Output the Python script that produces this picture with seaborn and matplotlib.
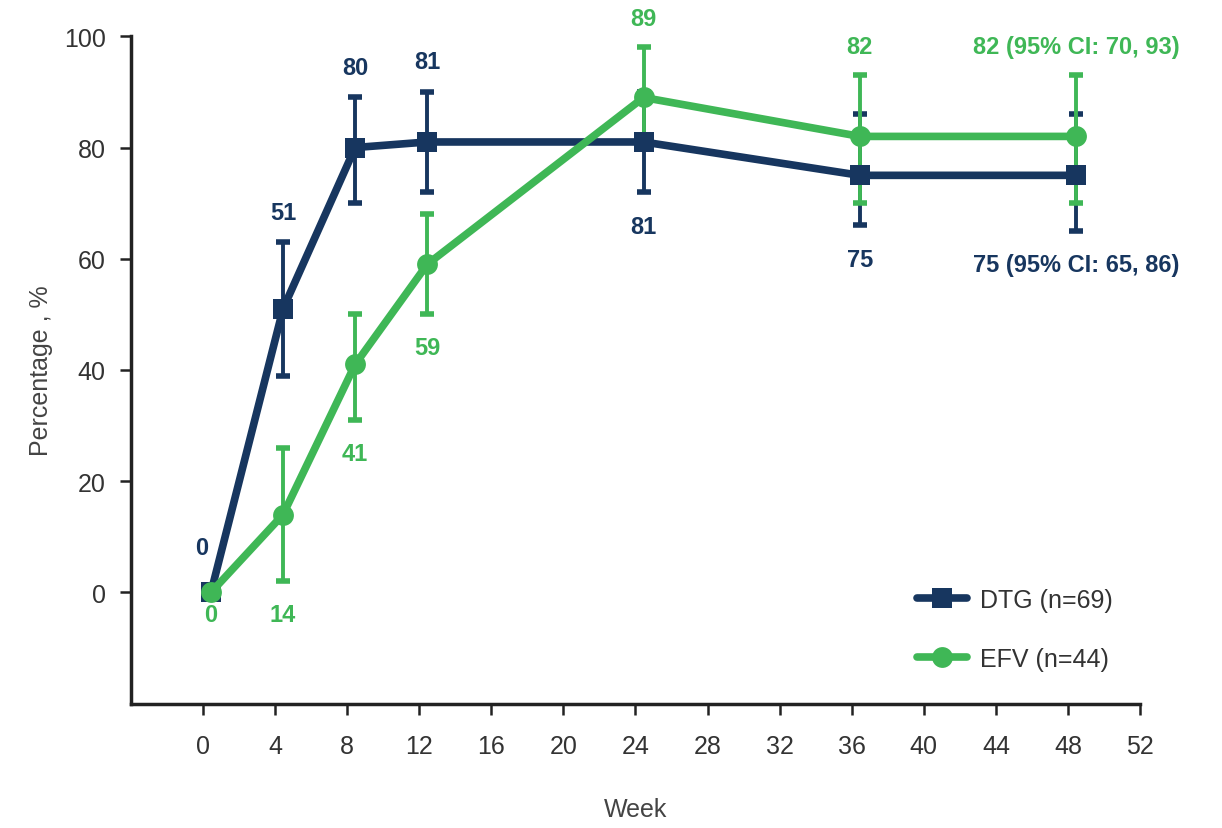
import numpy as np
import pandas as pd
import seaborn as sns
import matplotlib.pyplot as plt

# data
weeks = [0, 4, 8, 12, 24, 36, 48]
dtg = [0, 51, 80, 81, 81, 75, 75]
dtg_lo = [0, 39, 70, 72, 72, 66, 65]
dtg_hi = [0, 63, 89, 90, 90, 86, 86]
efv = [0, 14, 41, 59, 89, 82, 82]
efv_lo = [0, 2, 31, 50, 80, 70, 70]
efv_hi = [0, 26, 50, 68, 98, 93, 93]
dtg_labels = ['0', '51', '80', '81', '81', '75', '75 (95% CI: 65, 86)']
efv_labels = ['0', '14', '41', '59', '89', '82', '82 (95% CI: 70, 93)']
groups = ['DTG (n=69)', 'EFV (n=44)']

navy = '#17365f'
green = '#3fb756'
x_shift = 0.45  # points sit slightly right of the week ticks in the original

sns.set_theme(style='ticks')
plt.rcParams['font.family'] = ['Liberation Sans Narrow', 'Liberation Sans', 'DejaVu Sans']

df = pd.DataFrame({
    'week': np.array(weeks * 2) + x_shift,
    'pct': dtg + efv,
    'group': [groups[0]] * len(weeks) + [groups[1]] * len(weeks),
})

fig = plt.figure(figsize=(12.22, 8.29), dpi=100)
ax = fig.add_axes([0.107, 0.150, 0.826, 0.805])

# error bars under the lines, EFV bars over DTG bars
for vals, lo, hi, col, z in [(dtg, dtg_lo, dtg_hi, navy, 1.8), (efv, efv_lo, efv_hi, green, 2.2)]:
    v = np.array(vals)
    yerr = np.vstack([v - np.array(lo), np.array(hi) - v])
    ax.errorbar(np.array(weeks) + x_shift, v, yerr=yerr, fmt='none', ecolor=col,
                elinewidth=2.8, capsize=5, capthick=4, zorder=z)

sns.lineplot(data=df, x='week', y='pct', hue='group', style='group',
             palette=[navy, green], markers=['s', 'o'], dashes=False,
             linewidth=5.5, markersize=15, markeredgewidth=0, ax=ax, zorder=3)

# value labels
pt = 0.72
fs = 17
for i, w in enumerate(weeks):
    x = w + x_shift
    # DTG
    if i == 0:
        ax.annotate(dtg_labels[i], (x, dtg[i]), xytext=(-9 * pt, 45 * pt), textcoords='offset points',
                    ha='center', va='center', fontsize=fs, fontweight='bold', color=navy)
    elif i < 4:
        ax.annotate(dtg_labels[i], (x, dtg_hi[i]), xytext=(0, 30 * pt), textcoords='offset points',
                    ha='center', va='center', fontsize=fs, fontweight='bold', color=navy)
    else:
        ax.annotate(dtg_labels[i], (x, dtg_lo[i]), xytext=(0, -34 * pt), textcoords='offset points',
                    ha='center', va='center', fontsize=fs, fontweight='bold', color=navy)
    # EFV
    if i == 0:
        ax.annotate(efv_labels[i], (x, efv[i]), xytext=(0, -22 * pt), textcoords='offset points',
                    ha='center', va='center', fontsize=fs, fontweight='bold', color=green)
    elif i < 4:
        ax.annotate(efv_labels[i], (x, efv_lo[i]), xytext=(0, -33 * pt), textcoords='offset points',
                    ha='center', va='center', fontsize=fs, fontweight='bold', color=green)
    else:
        ax.annotate(efv_labels[i], (x, efv_hi[i]), xytext=(0, 29 * pt), textcoords='offset points',
                    ha='center', va='center', fontsize=fs, fontweight='bold', color=green)

ax.set_xlim(-4, 52)
ax.set_ylim(-20, 100)
ax.set_xticks(range(0, 53, 4))
ax.set_yticks(range(0, 101, 20))
ax.spines['top'].set_visible(False)
ax.spines['right'].set_visible(False)
for s in ['left', 'bottom']:
    ax.spines[s].set_linewidth(2.5)
    ax.spines[s].set_color('#222222')
ax.tick_params(axis='both', length=8, width=1.8, color='#222222', labelsize=18,
               labelcolor='#333333')
ax.tick_params(axis='x', pad=14)
ax.tick_params(axis='y', pad=10)
ax.set_xlabel('Week', fontsize=18, color='#444444', labelpad=28)
ax.set_ylabel('Percentage , %', fontsize=18, color='#444444', labelpad=8)

leg = ax.legend(loc='lower right', bbox_to_anchor=(0.995, 0.015), frameon=False,
                fontsize=18, handlelength=2.0, handletextpad=0.5, labelspacing=1.4, title=None)
for t in leg.get_texts():
    t.set_color('#333333')

fig.savefig('out.png', dpi=100)
